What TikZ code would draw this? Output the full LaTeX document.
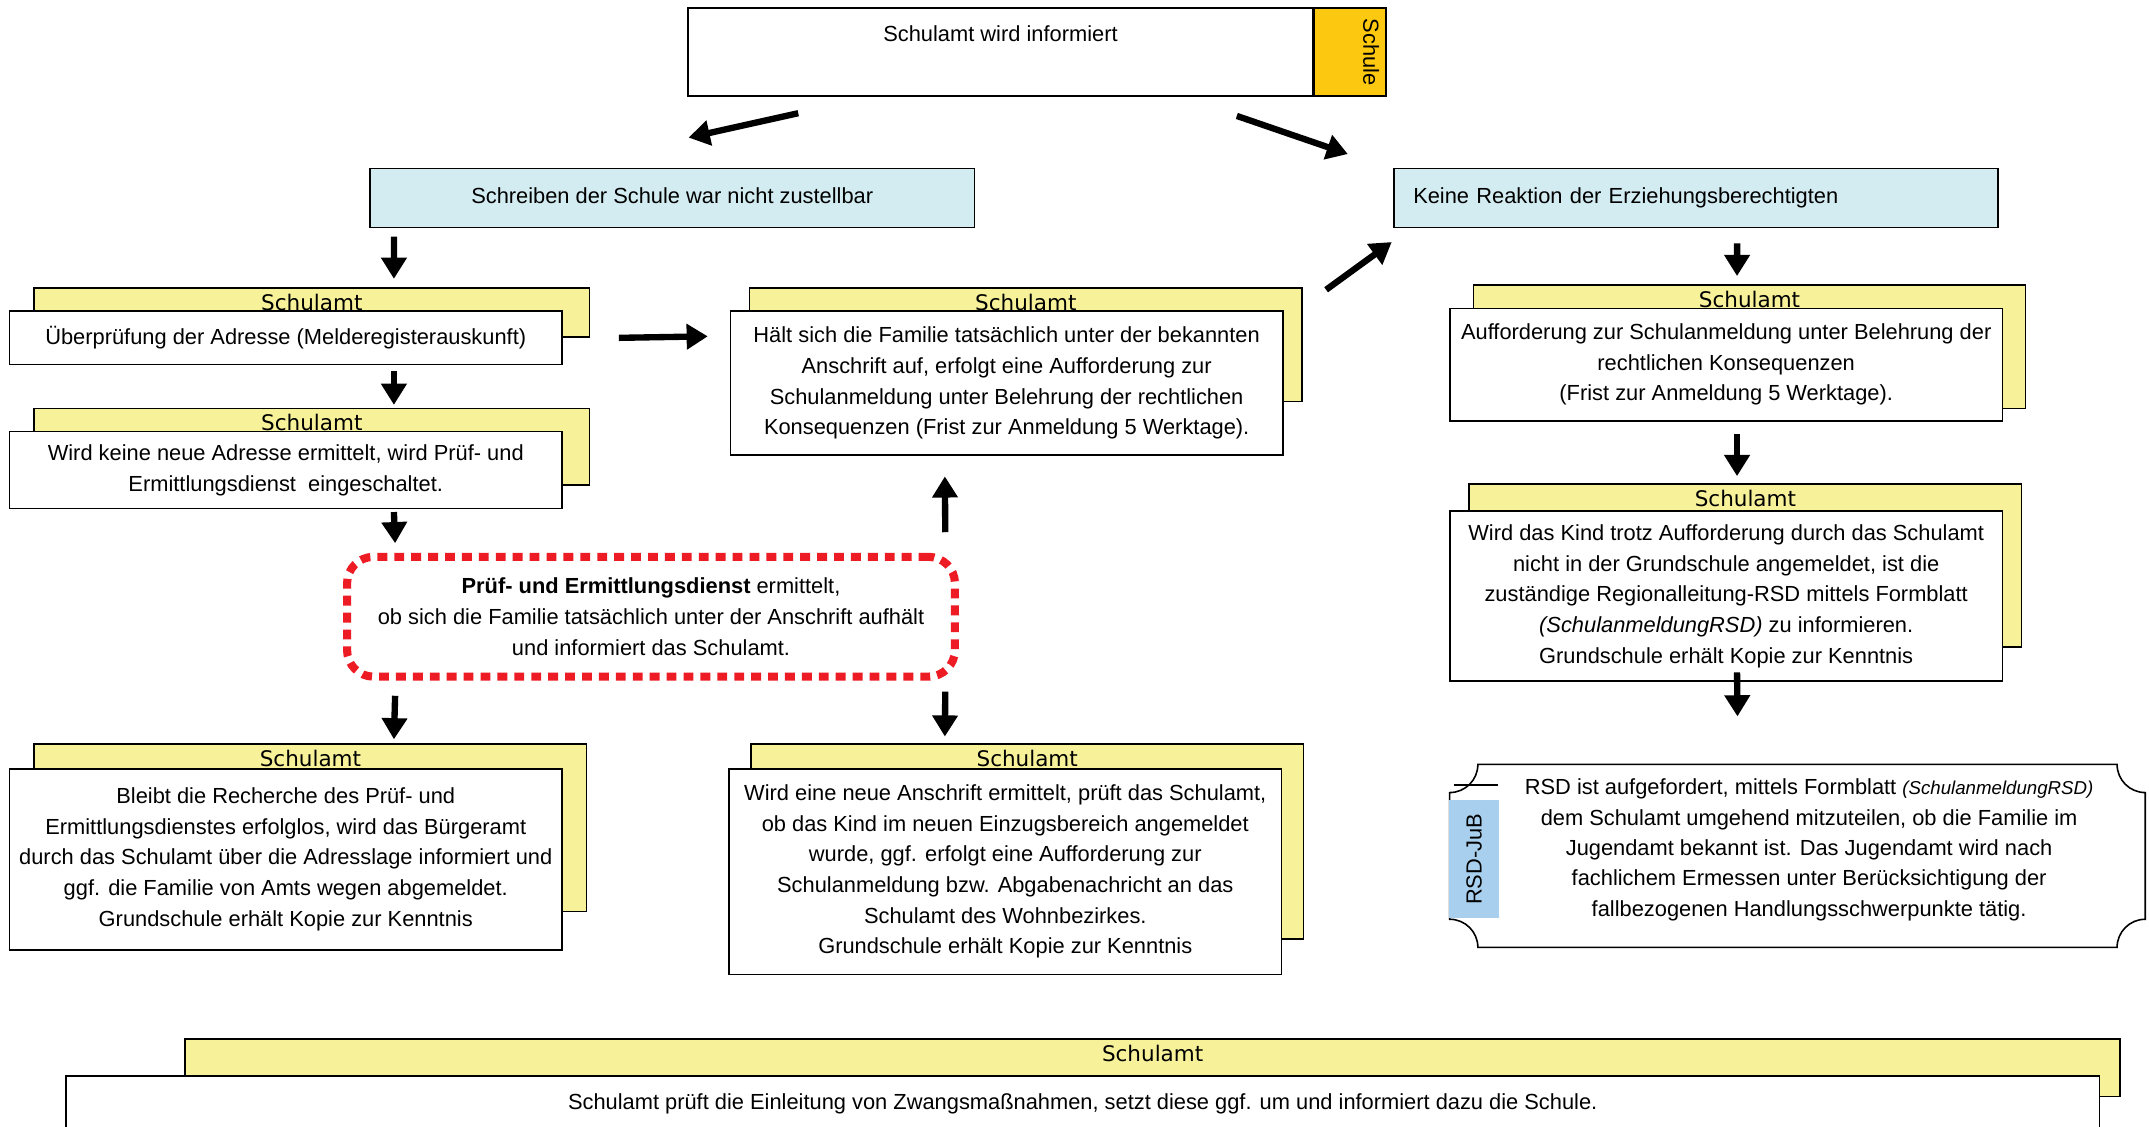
\documentclass[tikz,border=0pt]{standalone}
\usepackage{fontspec}
\setmainfont{Liberation Sans}
\newfontfamily\tabfont{DejaVu Sans}
\usetikzlibrary{calc,positioning,arrows.meta}
\pgfdeclarelayer{background}
\pgfsetlayers{background,main}
\definecolor{tabgelb}{RGB}{247,242,153}
\definecolor{kasteneis}{RGB}{210,236,241}
\definecolor{schulorange}{RGB}{252,201,16}
\definecolor{pruefrot}{RGB}{237,28,36}
\definecolor{jubblau}{RGB}{168,208,238}
\tikzset{
    box/.style={
        rectangle,
        draw=black, line width=0.9pt,
        fill=white,
        align=center,
        inner xsep=2pt, inner ysep=0pt,
        font={\fontsize{12.4}{17.4}\selectfont}
    },
    fallbox/.style={box, fill=kasteneis},
    tabbox/.style={draw=black, line width=0.9pt, fill=tabgelb},
    tablabel/.style={font={\tabfont\fontsize{12.2}{14}\selectfont}, inner sep=0pt},
    dickpfeil/.style={-{Triangle[length=12pt,width=14pt]}, line width=3.6pt},
    ermittlung/.style={
        box,
        draw=pruefrot, line width=4.6pt,
        dash pattern=on 5.6pt off 4pt,
        rounded corners=15pt
    },
    plaque/.style={draw=black, line width=0.9pt, fill=white},
}
% gelber Reiter "Schulamt" hinter einem Kasten
\newcommand{\amtstab}[5]{%
  \begin{pgfonlayer}{background}
    \draw[tabbox] (#2,-#3) rectangle (#4,-#5);
    \node[tablabel] (#1) at ({(#2+#4)/2},{-#3-10.5}) {Schulamt};
  \end{pgfonlayer}}

\begin{document}
\begin{tikzpicture}[x=0.7779pt, y=0.7779pt]
\useasboundingbox (0,0) rectangle (1568,-822);

% Kopf
\node[box, minimum width=354.7pt, minimum height=49.8pt] (kopf) at (730,-38) {};
\node[box, fill=schulorange, minimum width=40.5pt, minimum height=49.8pt, anchor=west] (schule) at (kopf.east) {};
\node[rotate=-90, anchor=north, inner sep=1pt, font={\fontsize{12.4}{14}\selectfont}] (schulelbl) at ([xshift=-3pt]schule.east) {Schule};
\node[anchor=north, inner sep=0pt, font={\fontsize{12.4}{14}\selectfont}] (kopflbl) at ([yshift=-10pt]kopf.north) {Schulamt wird informiert};

% Faelle
\node[fallbox, minimum width=343pt, minimum height=33.5pt] (unzustellbar) at (490.5,-144.5) {Schreiben der Schule war nicht zustellbar\vphantom{g}};
\node[fallbox, minimum height=33.5pt, text width=321pt, align=left, inner xsep=11pt] (keinereaktion) at (1237.5,-144.5) {Keine Reaktion der Erziehungsberechtigten};

% linke Spalte
\node[box, minimum width=313.5pt, minimum height=30.3pt] (adresse) at (208.5,-246.5) {Überprüfung der Adresse (Melderegisterauskunft)};
\amtstab{adressetab}{25}{210}{430}{246}

\node[box, minimum width=313.5pt, minimum height=43.6pt] (ermittelt) at (208.5,-343) {Wird keine neue Adresse ermittelt, wird Prüf- und\\Ermittlungsdienst \ eingeschaltet.};
\amtstab{ermitteltab}{25}{298}{430}{354}

\node[ermittlung, minimum width=345pt, minimum height=68pt] (pruefdienst) at (475,-450) {\textbf{Prüf- und Ermittlungsdienst} ermittelt,\\ob sich die Familie tatsächlich unter der Anschrift aufhält\\und informiert das Schulamt.};

\node[box, minimum width=313.5pt, minimum height=102.7pt] (erfolglos) at (208.5,-627) {Bleibt die Recherche des Prüf- und\\Ermittlungsdienstes erfolglos, wird das Bürgeramt\\durch das Schulamt über die Adresslage informiert und\\ggf. die Familie von Amts wegen abgemeldet.\\Grundschule erhält Kopie zur Kenntnis};
\amtstab{erfolglostab}{25}{543}{428}{665}

% mittlere Spalte
\node[box, minimum width=313.5pt, minimum height=81.7pt] (aufenthalt) at (734.5,-279.5) {Hält sich die Familie tatsächlich unter der bekannten\\Anschrift auf, erfolgt eine Aufforderung zur\\Schulanmeldung unter Belehrung der rechtlichen\\Konsequenzen (Frist zur Anmeldung 5 Werktage).};
\amtstab{aufenthalttab}{547}{210}{950}{293}

\node[box, minimum width=313.5pt, minimum height=116.7pt] (neueanschrift) at (733.5,-636) {Wird eine neue Anschrift ermittelt, prüft das Schulamt,\\ob das Kind im neuen Einzugsbereich angemeldet\\wurde, ggf. erfolgt eine Aufforderung zur\\Schulanmeldung bzw. Abgabenachricht an das\\Schulamt des Wohnbezirkes.\\Grundschule erhält Kopie zur Kenntnis};
\amtstab{neueanschrifttab}{548}{543}{951}{685}

% rechte Spalte
\node[box, minimum width=313.5pt, minimum height=63.8pt] (aufforderung) at (1259.5,-266) {Aufforderung zur Schulanmeldung unter Belehrung der\\rechtlichen Konsequenzen\\(Frist zur Anmeldung 5 Werktage).};
\amtstab{aufforderungtab}{1075}{208}{1478}{298}

\node[box, minimum width=313.5pt, minimum height=96.5pt] (regionalleitung) at (1259.5,-435) {Wird das Kind trotz Aufforderung durch das Schulamt\\nicht in der Grundschule angemeldet, ist die\\zuständige Regionalleitung-RSD mittels Formblatt\\\textit{(SchulanmeldungRSD)} zu informieren.\\Grundschule erhält Kopie zur Kenntnis};
\amtstab{regionalleitungtab}{1072}{353}{1475}{472}

% RSD-JuB
\node[minimum width=394.4pt, minimum height=103.5pt, inner sep=0pt] (rsd) at (1311.5,-624.5) {};
\draw[plaque] ([xshift=16pt]rsd.north west) -- ([xshift=-16pt]rsd.north east)
    arc[start angle=180, end angle=270, radius=16pt] -- ([yshift=16pt]rsd.south east)
    arc[start angle=90, end angle=180, radius=16pt] -- ([xshift=16pt]rsd.south west)
    arc[start angle=0, end angle=90, radius=16pt] -- ([yshift=-16pt]rsd.north west)
    arc[start angle=270, end angle=360, radius=16pt] -- cycle;
\draw[line width=0.9pt] ($(rsd.north west)+(3,-15)$) -- ($(rsd.north west)+(35,-15)$);
\node[fill=jubblau, rotate=90, minimum width=66.9pt, minimum height=28.8pt, inner sep=0pt, font={\fontsize{12.4}{14}\selectfont}] (jub) at (1075.5,-627) {RSD-JuB};
\node[align=center, inner sep=0pt, font={\fontsize{12.4}{17.2}\selectfont}] (rsdtext) at (1320,-620) {RSD ist aufgefordert, mittels Formblatt {\fontsize{10.6}{17.2}\selectfont\itshape (SchulanmeldungRSD)}\\dem Schulamt umgehend mitzuteilen, ob die Familie im\\Jugendamt bekannt ist. Das Jugendamt wird nach\\fachlichem Ermessen unter Berücksichtigung der\\fallbezogenen Handlungsschwerpunkte tätig.};

% unten
\node[box, minimum width=1154.4pt, minimum height=31.9pt] (zwang) at (790,-805.5) {Schulamt prüft die Einleitung von Zwangsmaßnahmen, setzt diese ggf. um und informiert dazu die Schule.};
\amtstab{zwangtab}{135}{758}{1547}{800}

% Pfeile
\draw[dickpfeil] ($(kopf.south west)+(81,-12)$) -- ($(unzustellbar.north west)+(233,22)$);
\draw[dickpfeil] ($(kopf.south west)+(401,-14)$) -- ($(keinereaktion.north west)+(-33,10)$);
\draw[dickpfeil] ($(unzustellbar.south west)+(18,-6)$) -- ($(adresse.north west)+(281,23)$);
\draw[dickpfeil] ($(adresse.south west)+(281,-4)$) -- ($(ermittelt.north west)+(281,19)$);
\draw[dickpfeil] ($(ermittelt.south west)+(281,-2)$) -- ($(pruefdienst.north west)+(38,7)$);
\draw[dickpfeil] ($(pruefdienst.south west)+(38,-11)$) -- ($(erfolglos.north west)+(281,21)$);
\draw[dickpfeil] ($(pruefdienst.south east)+(-10,-8)$) -- ($(neueanschrift.north west)+(158,23)$);
\draw[dickpfeil] ($(pruefdienst.north east)+(-10,15)$) -- ($(aufenthalt.south west)+(157,-15)$);
\draw[dickpfeil] ($(adresse.east)+(41,0)$) -- ($(aufenthalt.north west)+(-16,-19)$);
\draw[dickpfeil] ($(aufenthalt.north east)+(31,15)$) -- ($(keinereaktion.south west)+(-1,-10)$);
\draw[dickpfeil] ($(keinereaktion.south west)+(251,-11)$) -- ($(aufforderung.north west)+(210,23)$);
\draw[dickpfeil] ($(aufforderung.south west)+(210,-9)$) -- ($(regionalleitung.north west)+(210,25)$);
\draw[dickpfeil] ($(regionalleitung.south west)+(210,7)$) -- ($(rsd.north west)+(210,35)$);

\end{tikzpicture}
\end{document}
